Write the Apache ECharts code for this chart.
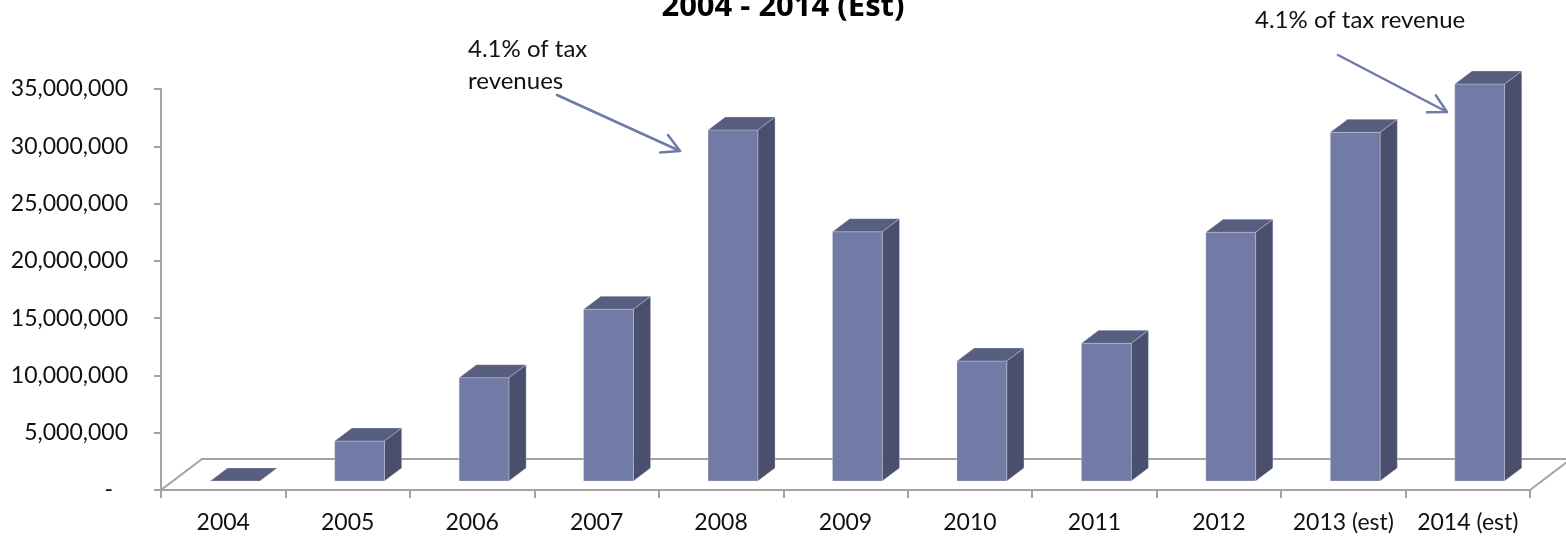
<!DOCTYPE html>
<html>
<head>
<meta charset="utf-8">
<title>Revenue 2004 - 2014</title>
<script src="https://cdn.jsdelivr.net/npm/echarts@6/dist/echarts.min.js"></script>
<style>
  html, body { margin: 0; padding: 0; background: #ffffff; }
  #chart { width: 1566px; height: 536px; }
</style>
</head>
<body>
<div id="chart"></div>
<script>
// Categories and yearly values
const years = ['2004', '2005', '2006', '2007', '2008', '2009', '2010', '2011', '2012', '2013 (est)', '2014 (est)'];
const revenue = [0, 3490000, 9020000, 14990000, 30640000, 21760000, 10470000, 12020000, 21710000, 30430000, 34650000];
const yTicks = { min: 0, max: 35000000, interval: 5000000 };

// Oblique 3D projection of the floor and of each column
const DEPTH_X = 41;
const DEPTH_Y = -31;
const BAR_FRONT = 0.29;   // fraction of floor depth where column front sits
const BAR_BACK = 0.71;
const BAR_WIDTH = 0.4;    // fraction of category band

const FONT = 'Lato, "Open Sans", sans-serif';
const AXIS_GRAY = '#a3a3a3';
const FRONT = '#717ba5';
const TOP = '#575e80';
const SIDE = '#4a4f6d';
const ARROW = '#6e7aa8';

const chart = echarts.init(document.getElementById('chart'));

function renderFloor(params, api) {
  const cs = params.coordSys;
  const x0 = cs.x, y0 = cs.y + cs.height, x1 = cs.x + cs.width;
  return {
    type: 'polyline',
    shape: {
      points: [
        [x0, y0],
        [x0 + DEPTH_X, y0 + DEPTH_Y],
        [x1 + DEPTH_X, y0 + DEPTH_Y],
        [x1, y0]
      ]
    },
    style: { stroke: AXIS_GRAY, lineWidth: 2, fill: null },
    silent: true
  };
}

function renderColumn(params, api) {
  const idx = api.value(0);
  const base = api.coord([idx, 0]);
  const top = api.coord([idx, api.value(1)]);
  const band = api.size([1, 0])[0];
  const w = band * BAR_WIDTH;
  const fx = DEPTH_X * BAR_FRONT, fy = DEPTH_Y * BAR_FRONT;
  const dx = DEPTH_X * (BAR_BACK - BAR_FRONT), dy = DEPTH_Y * (BAR_BACK - BAR_FRONT);
  const xl = base[0] - w / 2 + fx;
  const xr = xl + w;
  const yb = base[1] + fy;
  const yt = top[1] + fy;
  const edge = 'rgba(225,228,240,0.55)';
  const children = [];
  if (yb - yt > 0.5) {
    children.push({
      type: 'polygon',
      shape: { points: [[xr, yb], [xr + dx, yb + dy], [xr + dx, yt + dy], [xr, yt]] },
      style: { fill: SIDE, stroke: edge, lineWidth: 0.6 }
    });
    children.push({
      type: 'rect',
      shape: { x: xl, y: yt, width: w, height: yb - yt },
      style: { fill: FRONT, stroke: edge, lineWidth: 0.6 }
    });
  }
  children.push({
    type: 'polygon',
    shape: { points: [[xl, yt], [xl + dx, yt + dy], [xr + dx, yt + dy], [xr, yt]] },
    style: { fill: TOP, stroke: edge, lineWidth: 0.6 }
  });
  return { type: 'group', children: children };
}

function arrow(x1, y1, x2, y2) {
  const ang = Math.atan2(y2 - y1, x2 - x1);
  const len = 20, spread = 0.5;
  const a1 = [x2 - len * Math.cos(ang - spread), y2 - len * Math.sin(ang - spread)];
  const a2 = [x2 - len * Math.cos(ang + spread), y2 - len * Math.sin(ang + spread)];
  const st = { stroke: ARROW, lineWidth: 2.5, fill: null, lineCap: 'round', lineJoin: 'round' };
  return [
    { type: 'line', shape: { x1: x1, y1: y1, x2: x2, y2: y2 }, style: st },
    { type: 'polyline', shape: { points: [a1, [x2, y2], a2] }, style: st }
  ];
}

const option = {
  backgroundColor: '#ffffff',
  animation: false,
  grid: { left: 161, right: 36, top: 89, bottom: 46 },
  xAxis: {
    type: 'category',
    data: years,
    boundaryGap: true,
    axisLine: { show: true, lineStyle: { color: AXIS_GRAY, width: 2 } },
    axisTick: { show: true, length: 8, lineStyle: { color: AXIS_GRAY, width: 2 } },
    axisLabel: { color: '#111111', fontFamily: FONT, fontSize: 23, margin: 21, interval: 0 },
    splitLine: { show: false }
  },
  yAxis: {
    type: 'value',
    min: yTicks.min,
    max: yTicks.max,
    interval: yTicks.interval,
    axisLine: { show: true, lineStyle: { color: AXIS_GRAY, width: 2 } },
    axisTick: { show: true, length: 7, lineStyle: { color: AXIS_GRAY, width: 2 } },
    axisLabel: {
      color: '#111111', fontFamily: FONT, fontSize: 23, margin: 33,
      formatter: function (v) { return v === 0 ? '{dash|-}' : v.toLocaleString('en-US'); },
      rich: { dash: { fontFamily: FONT, fontSize: 23, color: '#111111', padding: [0, 15, 0, 0] } }
    },
    splitLine: { show: false }
  },
  series: [
    {
      type: 'custom',
      name: 'floor',
      renderItem: renderFloor,
      data: [[0, 0]],
      z: 1,
      silent: true
    },
    {
      type: 'custom',
      name: 'revenue',
      renderItem: renderColumn,
      encode: { x: 0, y: 1 },
      data: revenue.map(function (v, i) { return [i, v]; }),
      z: 3
    }
  ],
  graphic: [
    {
      type: 'text', left: 'center', top: -8,
      style: { text: '2004 - 2014 (Est)', font: 'bold 31px "Open Sans", sans-serif', fill: '#000000' }
    },
    {
      type: 'text', x: 468, y: 33,
      style: { text: '4.1% of tax\nrevenues', font: '24px ' + FONT, fill: '#111111', lineHeight: 32 }
    },
    {
      type: 'text', x: 1255, y: 8,
      style: { text: '4.1% of tax revenue', font: '24px ' + FONT, fill: '#111111' }
    },
    { type: 'group', children: arrow(557, 95, 680, 151) },
    { type: 'group', children: arrow(1338, 55, 1447, 112) }
  ]
};

chart.setOption(option);
</script>
</body>
</html>
